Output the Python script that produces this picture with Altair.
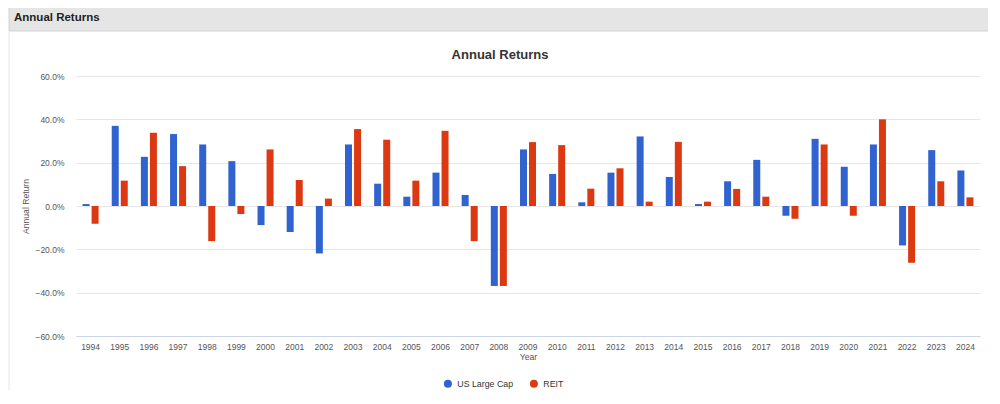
import altair as alt
import pandas as pd

years = [str(y) for y in range(1994, 2025)]
us_large_cap = [0.9, 37.0, 22.7, 33.2, 28.4, 20.7, -8.8, -12.0, -21.9, 28.4, 10.3,
                4.3, 15.4, 5.1, -36.9, 26.1, 14.8, 1.7, 15.4, 32.1, 13.4, 0.9,
                11.4, 21.3, -4.5, 31.0, 18.1, 28.4, -18.2, 25.8, 16.4]
reit = [-8.2, 11.7, 33.8, 18.4, -16.2, -3.7, 26.1, 12.0, 3.4, 35.5, 30.6,
        11.7, 34.7, -16.2, -36.9, 29.5, 28.1, 8.0, 17.4, 2.0, 29.6, 2.0,
        7.9, 4.3, -5.9, 28.4, -4.5, 40.0, -26.2, 11.4, 4.0]
series_names = ["US Large Cap", "REIT"]
colors = ["#3063cf", "#dc3912"]
y_ticks = [-60, -40, -20, 0, 20, 40, 60]
panel_title = "Annual Returns"
chart_title = "Annual Returns"

rows = []
for i, yr in enumerate(years):
    rows.append({"Year": yr, "Series": series_names[0], "Return": us_large_cap[i]})
    rows.append({"Year": yr, "Series": series_names[1], "Return": reit[i]})
df = pd.DataFrame(rows)
one = pd.DataFrame({"k": [0]})

FONT = "Liberation Sans"

header_bg = alt.Chart(one).mark_rect(color="#e5e5e5", stroke="#d2d2d2", strokeWidth=1).encode(
    x=alt.value(-67), x2=alt.value(913), y=alt.value(-75), y2=alt.value(-45)
)
panel_left = alt.Chart(one).mark_rule(color="#e6e6e6", strokeWidth=1).encode(
    x=alt.value(-67), y=alt.value(-45), y2=alt.value(330)
)
header_text = alt.Chart(one).mark_text(
    text=panel_title, font=FONT, fontSize=11.5, fontWeight="bold", color="#222222",
    align="left", baseline="middle"
).encode(x=alt.value(-62), y=alt.value(-58))
title_text = alt.Chart(one).mark_text(
    text=chart_title, font=FONT, fontSize=13, fontWeight="bold", color="#333333",
    align="center", baseline="middle"
).encode(x=alt.value(424), y=alt.value(-21))

bars = alt.Chart(df).mark_bar(width=7).encode(
    x=alt.X("Year:N", sort=years, title="Year",
            scale=alt.Scale(paddingInner=0.38, paddingOuter=0.19),
            axis=alt.Axis(labelAngle=0, labelColor="#555555", labelFontSize=8.5, labelFont=FONT,
                          ticks=False, tickSize=0, domainColor="#ccd6eb", domainWidth=1, grid=False,
                          titleFontSize=8.6, titleColor="#555555", titleFont=FONT,
                          titleFontWeight="normal", labelPadding=6, titlePadding=2)),
    xOffset=alt.XOffset("Series:N", sort=series_names,
                        scale=alt.Scale(domain=series_names, paddingInner=0, paddingOuter=0)),
    y=alt.Y("Return:Q", title="Annual Return",
            scale=alt.Scale(domain=[-60, 60], nice=False, zero=True),
            axis=alt.Axis(values=y_ticks, labelExpr="format(datum.value, '.1f') + '%'",
                          labelColor="#555555", labelFontSize=8.5, labelFont=FONT,
                          ticks=False, tickSize=0, domain=False, gridColor="#e6e6e6",
                          labelPadding=12, titleFontSize=8.6, titleColor="#555555",
                          titleFont=FONT, titleFontWeight="normal", titlePadding=4)),
    color=alt.Color("Series:N",
                    scale=alt.Scale(domain=series_names, range=colors),
                    legend=alt.Legend(title=None, orient="none", direction="horizontal",
                                      legendX=367.5, legendY=303, symbolType="circle",
                                      symbolSize=64, symbolStrokeWidth=0, labelFontSize=8.8,
                                      labelFont=FONT, labelColor="#333333", labelOffset=5,
                                      columnPadding=16, padding=0)),
)

chart = alt.layer(header_bg, panel_left, header_text, title_text, bars).properties(
    width=904, height=260,
    autosize=alt.AutoSizeParams(type="none"),
    padding={"left": 68, "top": 68, "right": 8, "bottom": 54},
    background="#ffffff",
).configure_view(stroke=None)

chart.save("out.html", embed_options={"renderer": "svg", "actions": False})
